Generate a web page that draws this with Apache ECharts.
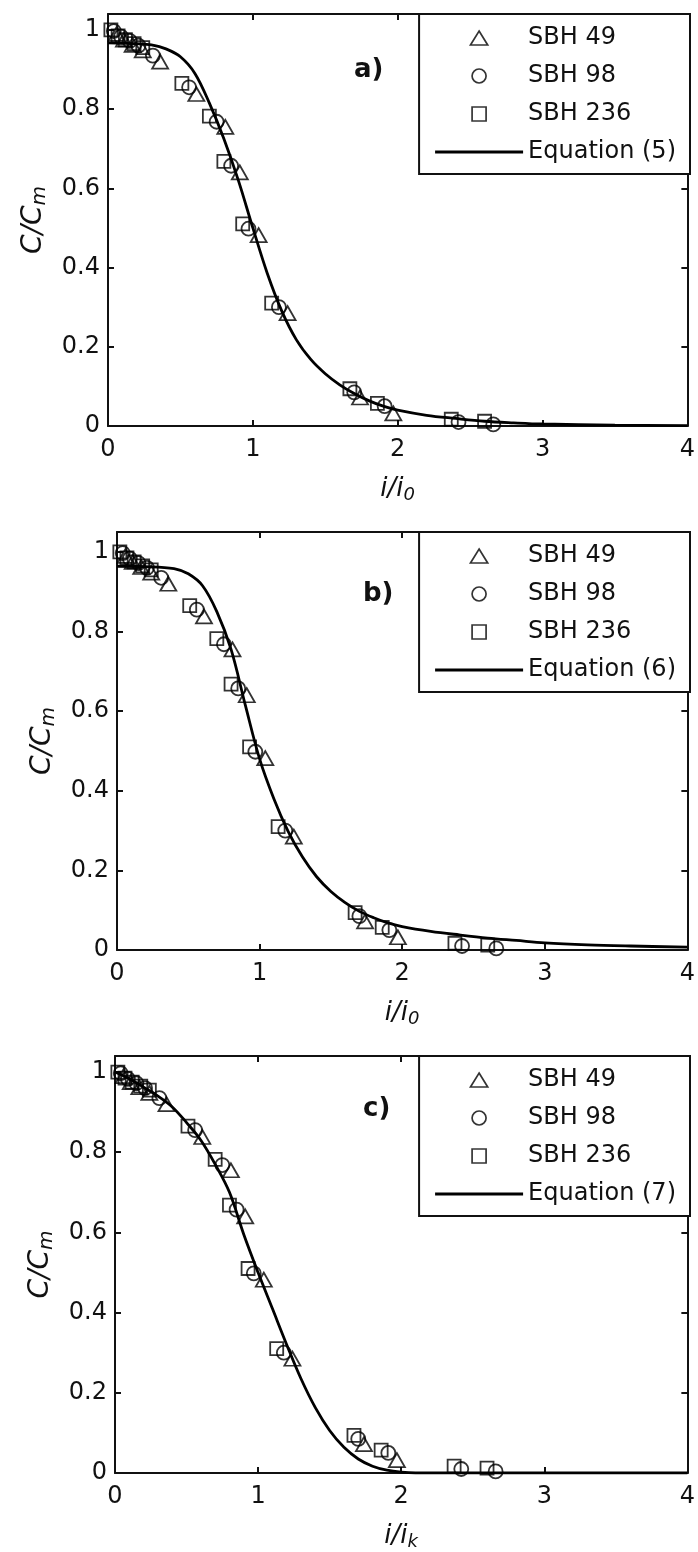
<!DOCTYPE html>
<html>
<head>
<meta charset="utf-8">
<script src="https://cdn.jsdelivr.net/npm/echarts@6/dist/echarts.min.js"></script>
<style>
html,body{margin:0;padding:0;background:#fff;}
#chart{width:698px;height:1552px;}
</style>
</head>
<body>
<div id="chart"></div>
<script>
// ---- Data ----
const xTicks = [0, 1, 2, 3, 4];
const yTicks = [0, 0.2, 0.4, 0.6, 0.8, 1];

const sbh49X  = [0.06, 0.11, 0.17, 0.24, 0.36, 0.61, 0.81, 0.91, 1.04, 1.24, 1.74, 1.97];
const sbh49Y  = [0.99, 0.975, 0.962, 0.948, 0.92, 0.838, 0.755, 0.64, 0.482, 0.285, 0.072, 0.032];

const sbh98X  = [0.04, 0.09, 0.15, 0.21, 0.31, 0.56, 0.75, 0.85, 0.97, 1.18, 1.70, 1.91, 2.42, 2.66];
const sbh98Y  = [0.997, 0.983, 0.972, 0.96, 0.935, 0.855, 0.768, 0.657, 0.498, 0.30, 0.085, 0.05, 0.01, 0.004];

const sbh236X = [0.02, 0.07, 0.12, 0.18, 0.24, 0.51, 0.70, 0.80, 0.93, 1.13, 1.67, 1.86, 2.37, 2.60];
const sbh236Y = [1.0, 0.985, 0.975, 0.965, 0.955, 0.865, 0.782, 0.668, 0.51, 0.31, 0.094, 0.057, 0.017, 0.012];

const eq5X = [0, 0.1, 0.2, 0.3, 0.4, 0.5, 0.6, 0.7, 0.8, 0.9, 1.0, 1.1, 1.2, 1.3, 1.4, 1.5, 1.6, 1.7, 1.8, 1.9, 2.0, 2.2, 2.4, 2.6, 2.8, 3.0, 3.5, 4.0];
const eq5Y = [0.967, 0.966, 0.965, 0.962, 0.952, 0.932, 0.89, 0.815, 0.725, 0.62, 0.5, 0.385, 0.29, 0.218, 0.168, 0.132, 0.104, 0.082, 0.064, 0.05, 0.04, 0.027, 0.019, 0.012, 0.008, 0.005, 0.002, 0.001];

const eq6X = [0, 0.2, 0.4, 0.5, 0.6, 0.7, 0.8, 0.9, 1.0, 1.1, 1.2, 1.3, 1.4, 1.5, 1.6, 1.7, 1.8, 1.9, 2.0, 2.2, 2.4, 2.6, 2.8, 3.0, 3.3, 3.6, 4.0];
const eq6Y = [0.964, 0.963, 0.958, 0.945, 0.915, 0.85, 0.755, 0.615, 0.48, 0.38, 0.298, 0.234, 0.184, 0.147, 0.119, 0.097, 0.081, 0.068, 0.059, 0.047, 0.038, 0.03, 0.024, 0.018, 0.013, 0.010, 0.007];

const eq7X = [0, 0.1, 0.2, 0.3, 0.4, 0.5, 0.6, 0.7, 0.8, 0.9, 1.0, 1.1, 1.2, 1.3, 1.4, 1.5, 1.6, 1.7, 1.8, 1.9, 2.0, 2.1, 2.5, 3.0, 3.5, 4.0];
const eq7Y = [1.0, 0.983, 0.962, 0.94, 0.913, 0.874, 0.83, 0.77, 0.70, 0.595, 0.50, 0.41, 0.32, 0.235, 0.163, 0.106, 0.064, 0.035, 0.017, 0.007, 0.002, 0, 0, 0, 0, 0];

const panelLabels = ['a)', 'b)', 'c)'];
const eqNames = ['Equation (5)', 'Equation (6)', 'Equation (7)'];
const xNameSubs = ['0', '0', 'k'];
const seriesNames = ['SBH 49', 'SBH 98', 'SBH 236'];

// ---- Layout ----
const FONT = 'DejaVu Sans';
const INK = '#000';
const grids = [
  {left: 108, top: 14, right: 8, height: 412, ymax: 1.04},
  {left: 117, top: 532, right: 8, height: 418, ymax: 1.05},
  {left: 115, top: 1056, right: 8, height: 417, ymax: 1.04}
];
const legendPos = [
  {right: 8, top: 14},
  {right: 8, top: 532},
  {right: 8, top: 1056}
];
const titlePos = [
  {left: 349, top: 52},
  {left: 358, top: 576},
  {left: 358, top: 1091}
];

function zip(xs, ys) { return xs.map((x, i) => [x, ys[i]]); }
const eqData = [zip(eq5X, eq5Y), zip(eq6X, eq6Y), zip(eq7X, eq7Y)];
const markerData = [zip(sbh49X, sbh49Y), zip(sbh98X, sbh98Y), zip(sbh236X, sbh236Y)];
const symbols = ['triangle', 'circle', 'rect'];
const symbolSizes = [[16, 14], 14, 13];
const legendIcons = [
  'path://M8,0 L16,13 L0,13 Z',
  'path://M7,0 A7,7 0 1 1 6.99,0 Z',
  'path://M0,0 L12,0 L12,12 L0,12 Z'
];

const option = {
  animation: false,
  backgroundColor: '#fff',
  title: [], grid: [], xAxis: [], yAxis: [], legend: [], series: []
};

grids.forEach((g, k) => {
  option.grid.push({left: g.left, top: g.top, right: g.right, height: g.height, containLabel: false});
  const axisLine = {show: true, onZero: false, lineStyle: {color: '#111', width: 2}};
  const tick = {show: true, inside: true, length: 6, lineStyle: {color: '#111', width: 2}};
  option.xAxis.push({
    type: 'value', gridIndex: k, min: 0, max: 4, interval: 1, position: 'bottom',
    axisLine, axisTick: tick, splitLine: {show: false},
    axisLabel: {fontFamily: FONT, fontSize: 24, color: '#111', margin: 12},
    name: '{i|i/i}{s|' + xNameSubs[k] + '}', nameLocation: 'middle', nameGap: 48,
    nameTextStyle: {rich: {
      i: {fontFamily: FONT, fontStyle: 'italic', fontSize: 26, color: '#111', lineHeight: 30},
      s: {fontFamily: FONT, fontStyle: 'italic', fontSize: 18, color: '#111', lineHeight: 30, verticalAlign: 'bottom', padding: [14, 0, 0, 0]}
    }}
  });
  option.xAxis.push({
    type: 'value', gridIndex: k, min: 0, max: 4, interval: 1, position: 'top',
    axisLine, axisTick: tick, axisLabel: {show: false}, splitLine: {show: false}
  });
  option.yAxis.push({
    type: 'value', gridIndex: k, min: 0, max: g.ymax, interval: 0.2, position: 'left',
    axisLine, axisTick: tick, splitLine: {show: false},
    axisLabel: {fontFamily: FONT, fontSize: 24, color: '#111', margin: 8, showMaxLabel: false,
      formatter: v => (yTicks.some(t => Math.abs(t - v) < 1e-6) ? String(Math.round(v * 10) / 10) : '')},
    name: '{i|C/C}{s|m}', nameLocation: 'middle', nameGap: 58, nameRotate: 90,
    nameTextStyle: {rich: {
      i: {fontFamily: FONT, fontStyle: 'italic', fontSize: 28, color: '#111', lineHeight: 32},
      s: {fontFamily: FONT, fontStyle: 'italic', fontSize: 20, color: '#111', lineHeight: 32, verticalAlign: 'bottom', padding: [14, 0, 0, 0]}
    }}
  });
  option.yAxis.push({
    type: 'value', gridIndex: k, min: 0, max: g.ymax, interval: 0.2, position: 'right',
    axisLine, axisTick: tick, axisLabel: {show: false}, splitLine: {show: false}
  });

  option.title.push({
    text: panelLabels[k], left: titlePos[k].left, top: titlePos[k].top,
    textStyle: {fontFamily: FONT, fontWeight: 'bold', fontSize: 26, color: '#111'}
  });

  const legData = seriesNames.map((n, s) => ({
    name: n, icon: legendIcons[s],
    itemStyle: {color: 'rgba(255,255,255,0)', borderColor: INK, borderWidth: 1.7}
  }));
  legData.push({name: eqNames[k], icon: 'path://M0,0 L88,0 L88,2.8 L0,2.8 Z',
    itemStyle: {color: INK, borderWidth: 0}, lineStyle: {color: INK, width: 2.8}});
  option.legend.push({
    right: legendPos[k].right, top: legendPos[k].top, orient: 'vertical',
    data: legData,
    itemWidth: 88, itemHeight: 14, itemGap: 10,
    padding: [10, 14, 8, 16],
    backgroundColor: '#fff', borderColor: '#111', borderWidth: 2, borderRadius: 0,
    selectedMode: false,
    textStyle: {fontFamily: FONT, fontSize: 24, color: '#111', lineHeight: 28}
  });

  markerData.forEach((d, s) => {
    option.series.push({
      type: 'scatter', name: seriesNames[s], xAxisIndex: 2 * k, yAxisIndex: 2 * k,
      data: d, symbol: symbols[s], symbolSize: symbolSizes[s],
      itemStyle: {color: 'rgba(255,255,255,0)', borderColor: INK, borderWidth: 1.8},
      z: 3
    });
  });
  option.series.push({
    type: 'line', name: eqNames[k], xAxisIndex: 2 * k, yAxisIndex: 2 * k,
    data: eqData[k], smooth: 0.35, symbol: 'none', showSymbol: false,
    lineStyle: {color: INK, width: 2.8}, itemStyle: {color: INK}, z: 4
  });
});

const chart = echarts.init(document.getElementById('chart'), null, {renderer: 'canvas'});
chart.setOption(option);
</script>
</body>
</html>
